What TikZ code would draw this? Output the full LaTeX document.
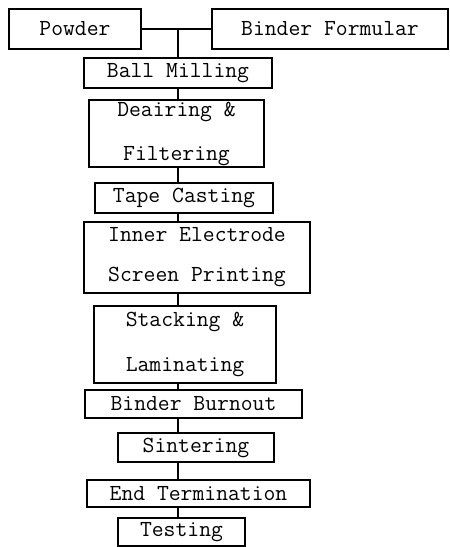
\documentclass[tikz,border=0pt]{standalone}
\usepackage{fontspec}
\tikzset{
  box/.style={draw, line width=1.4pt, rectangle, inner sep=0pt, align=center,
    font=\ttfamily\fontsize{23}{44}\selectfont},
  conn/.style={line width=2pt}
}
\begin{document}
\begin{tikzpicture}[x=1pt,y=-1pt]
\useasboundingbox (0,0) rectangle (450,547);
\node[box, minimum width=132pt, minimum height=40pt] (powder) at (75,29) {Powder};
\node[box, minimum width=236pt, minimum height=40pt] (binder) at (330,29) {Binder Formular};
\node[box, minimum width=188pt, minimum height=30pt] (ball) at (178,73) {Ball Milling};
\node[box, minimum width=175pt, minimum height=67pt] (deair) at (176.5,133.5) {Deairing \&\\Filtering};
\node[box, minimum width=178pt, minimum height=30pt] (tape) at (184,198) {Tape Casting};
\node[box, minimum width=226pt, minimum height=71pt, font=\ttfamily\fontsize{23}{40}\selectfont] (inner) at (197,257.5) {Inner Electrode\\Screen Printing};
\node[box, minimum width=182pt, minimum height=77pt, font=\ttfamily\fontsize{23}{45}\selectfont] (stack) at (185,344.5) {Stacking \&\\Laminating};
\node[box, minimum width=217pt, minimum height=28pt] (burn) at (193.5,404) {Binder Burnout};
\node[box, minimum width=156pt, minimum height=29pt] (sint) at (196,447.5) {Sintering};
\node[box, minimum width=223pt, minimum height=27pt] (endt) at (198.5,493.5) {End Termination};
\node[box, minimum width=127pt, minimum height=28pt] (test) at (181.5,532) {Testing};
\coordinate (j) at (178,29);
\draw[conn] (powder) -- (binder);
\draw[conn] (j) -- (ball.north -| j);
\draw[conn] (ball.south -| j) -- (deair.north -| j);
\draw[conn] (deair.south -| j) -- (tape.north -| j);
\draw[conn] (tape.south -| j) -- (inner.north -| j);
\draw[conn] (inner.south -| j) -- (stack.north -| j);
\draw[conn] (stack.south -| j) -- (burn.north -| j);
\draw[conn] (burn.south -| j) -- (sint.north -| j);
\draw[conn] (sint.south -| j) -- (endt.north -| j);
\draw[conn] (endt.south -| j) -- (test.north -| j);
\end{tikzpicture}
\end{document}
